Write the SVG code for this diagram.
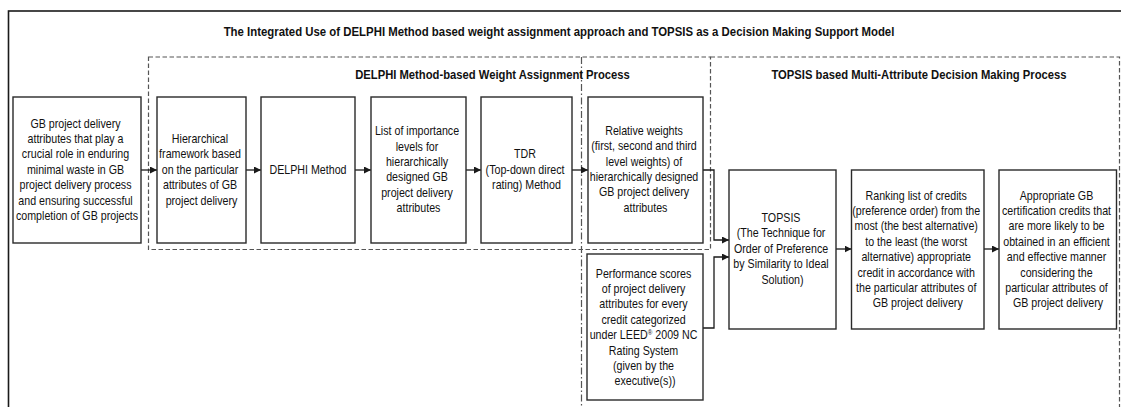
<svg xmlns="http://www.w3.org/2000/svg" width="1121" height="407" viewBox="0 0 1121 407">
  <style>
    .frame { fill: none; stroke: #1a1a1a; stroke-width: 1.6; }
    .box { fill: #ffffff; stroke: #2a2a2a; stroke-width: 1.4; }
    .region { fill: none; stroke: #555555; stroke-width: 1.2; stroke-dasharray: 4.5 2.5; }
    .divider { fill: none; stroke: #555555; stroke-width: 1.2; stroke-dasharray: 7 2.5 1.5 2.5; }
    .conn { fill: none; stroke: #1a1a1a; stroke-width: 1.3; marker-end: url(#arrow); }
    text { font-family: "Liberation Sans", Arial, sans-serif; fill: #111111; text-anchor: middle; }
    .t { font-size: 12px; }
    .h { font-size: 12.5px; font-weight: bold; }
  </style>
  <defs>
    <marker id="arrow" viewBox="0 0 10 10" refX="10" refY="5" markerWidth="7" markerHeight="7" markerUnits="userSpaceOnUse" orient="auto">
      <path d="M0,0 L10,5 L0,10 z" fill="#1a1a1a"/>
    </marker>
  </defs>

  <rect width="1121" height="407" fill="#ffffff"/>

  <!-- outer frame, running off the right and bottom edges -->
  <rect class="frame" x="8.5" y="11" width="1130" height="420"/>
  <text class="h" transform="matrix(0.912 0 0 1 559 0)" x="0" y="36">The Integrated Use of DELPHI Method based weight assignment approach and TOPSIS as a Decision Making Support Model</text>

  <!-- process regions -->
  <g id="regions">
    <rect class="region" x="148.5" y="57" width="562" height="192.5"/>
    <path class="region" d="M710.5,57 H1119.5 V420"/>
    <path class="divider" d="M581.5,57 V420"/>
    <text class="h" transform="matrix(0.9 0 0 1 492.5 0)" x="0" y="79.5">DELPHI Method-based Weight Assignment Process</text>
    <text class="h" transform="matrix(0.9 0 0 1 919 0)" x="0" y="79.5">TOPSIS based Multi-Attribute Decision Making Process</text>
  </g>

  <!-- connectors -->
  <g id="connectors">
    <path class="conn" d="M141,170 H157"/>
    <path class="conn" d="M246,170 H261"/>
    <path class="conn" d="M355,170 H371"/>
    <path class="conn" d="M466,170 H481"/>
    <path class="conn" d="M572,170 H588"/>
    <path class="conn" d="M703,170 H714 V240 H729"/>
    <path class="conn" d="M703,328 H714 V257 H729"/>
    <path class="conn" d="M836,249 H851.5"/>
    <path class="conn" d="M984,249 H999"/>
  </g>

  <g id="attributes">
    <rect class="box" x="13" y="97" width="128" height="146"/>
    <text class="t" transform="matrix(0.89 0 0 1 77 0)">
      <tspan x="0" y="127.6">GB project delivery</tspan>
      <tspan x="0" y="143">attributes that play a</tspan>
      <tspan x="0" y="158.4">crucial role in enduring</tspan>
      <tspan x="0" y="173.8">minimal waste in GB</tspan>
      <tspan x="0" y="189.2">project delivery process</tspan>
      <tspan x="0" y="204.6">and ensuring successful</tspan>
      <tspan x="0" y="220">completion of GB projects</tspan>
    </text>
  </g>

  <g id="framework">
    <rect class="box" x="157" y="97" width="89" height="146"/>
    <text class="t" transform="matrix(0.89 0 0 1 201.5 0)">
      <tspan x="0" y="143">Hierarchical</tspan>
      <tspan x="0" y="158.4">framework based</tspan>
      <tspan x="0" y="173.8">on the particular</tspan>
      <tspan x="0" y="189.2">attributes of GB</tspan>
      <tspan x="0" y="204.6">project delivery</tspan>
    </text>
  </g>

  <g id="delphi">
    <rect class="box" x="261" y="97" width="94" height="146"/>
    <text class="t" transform="matrix(0.89 0 0 1 308 0)" x="0" y="173.8">DELPHI Method</text>
  </g>

  <g id="importance">
    <rect class="box" x="371" y="97" width="95" height="146"/>
    <text class="t" transform="matrix(0.89 0 0 1 418.5 0)">
      <tspan x="0" y="135.3">List of importance</tspan>
      <tspan x="0" y="150.7">levels for</tspan>
      <tspan x="0" y="166.1">hierarchically</tspan>
      <tspan x="0" y="181.5">designed GB</tspan>
      <tspan x="0" y="196.9">project delivery</tspan>
      <tspan x="0" y="212.3">attributes</tspan>
    </text>
  </g>

  <g id="tdr">
    <rect class="box" x="481" y="97" width="91" height="146"/>
    <text class="t" transform="matrix(0.89 0 0 1 526.5 0)">
      <tspan x="0" y="158.4">TDR</tspan>
      <tspan x="0" y="173.8">(Top-down direct</tspan>
      <tspan x="0" y="189.2">rating) Method</tspan>
    </text>
  </g>

  <g id="weights">
    <rect class="box" x="588" y="97" width="115" height="146"/>
    <text class="t" transform="matrix(0.89 0 0 1 645.5 0)">
      <tspan x="0" y="134.8">Relative weights</tspan>
      <tspan x="0" y="150.2">(first, second and third</tspan>
      <tspan x="0" y="165.6">level weights) of</tspan>
      <tspan x="0" y="181">hierarchically designed</tspan>
      <tspan x="0" y="196.4">GB project delivery</tspan>
      <tspan x="0" y="211.8">attributes</tspan>
    </text>
  </g>

  <g id="scores">
    <rect class="box" x="587" y="254" width="116" height="146"/>
    <text class="t" transform="matrix(0.89 0 0 1 645 0)">
      <tspan x="0" y="277.6">Performance scores</tspan>
      <tspan x="0" y="293">of project delivery</tspan>
      <tspan x="0" y="308.4">attributes for every</tspan>
      <tspan x="0" y="323.8">credit categorized</tspan>
      <tspan x="0" y="339.2">under LEED<tspan dy="-4.5" font-size="7">®</tspan><tspan dy="4.5"> 2009 NC</tspan></tspan>
      <tspan x="0" y="354.6">Rating System</tspan>
      <tspan x="0" y="370">(given by the</tspan>
      <tspan x="0" y="385.4">executive(s))</tspan>
    </text>
  </g>

  <g id="topsis">
    <rect class="box" x="729" y="170" width="107" height="159"/>
    <text class="t" transform="matrix(0.89 0 0 1 782.5 0)">
      <tspan x="0" y="222">TOPSIS</tspan>
      <tspan x="0" y="237.4">(The Technique for</tspan>
      <tspan x="0" y="252.8">Order of Preference</tspan>
      <tspan x="0" y="268.2">by Similarity to Ideal</tspan>
      <tspan x="0" y="283.6">Solution)</tspan>
    </text>
  </g>

  <g id="ranking">
    <rect class="box" x="851.5" y="170" width="132.5" height="159"/>
    <text class="t" transform="matrix(0.89 0 0 1 917.7 0)">
      <tspan x="0" y="199.6">Ranking list of credits</tspan>
      <tspan x="0" y="215">(preference order) from the</tspan>
      <tspan x="0" y="230.4">most (the best alternative)</tspan>
      <tspan x="0" y="245.8">to the least (the worst</tspan>
      <tspan x="0" y="261.2">alternative) appropriate</tspan>
      <tspan x="0" y="276.6">credit in accordance with</tspan>
      <tspan x="0" y="292">the particular attributes of</tspan>
      <tspan x="0" y="307.4">GB project delivery</tspan>
    </text>
  </g>

  <g id="credits">
    <rect class="box" x="999" y="170" width="117.5" height="159"/>
    <text class="t" transform="matrix(0.89 0 0 1 1058 0)">
      <tspan x="0" y="199.6">Appropriate GB</tspan>
      <tspan x="0" y="215">certification credits that</tspan>
      <tspan x="0" y="230.4">are more likely to be</tspan>
      <tspan x="0" y="245.8">obtained in an efficient</tspan>
      <tspan x="0" y="261.2">and effective manner</tspan>
      <tspan x="0" y="276.6">considering the</tspan>
      <tspan x="0" y="292">particular attributes of</tspan>
      <tspan x="0" y="307.4">GB project delivery</tspan>
    </text>
  </g>
</svg>
